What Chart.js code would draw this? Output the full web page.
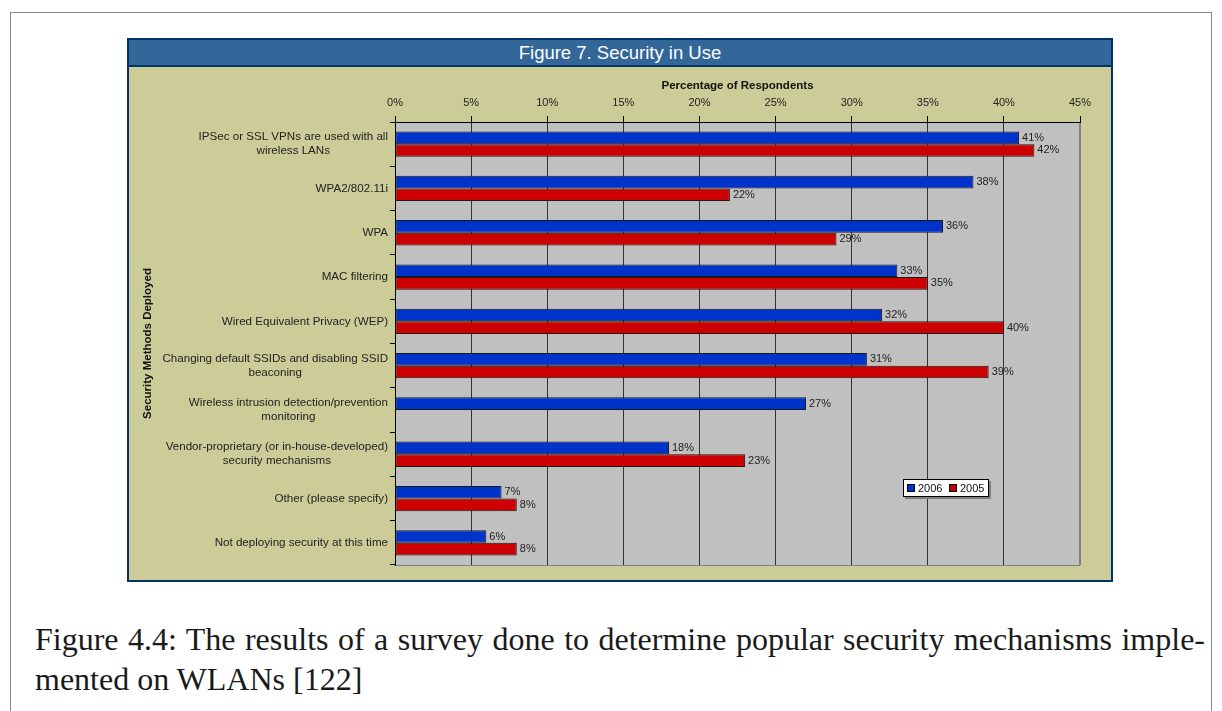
<!DOCTYPE html>
<html>
<head>
<meta charset="utf-8">
<script src="https://cdn.jsdelivr.net/npm/chart.js@4/dist/chart.umd.min.js"></script>
<style>
    body { margin: 0; background: #fff; width: 1222px; height: 711px; overflow: hidden; position: relative; }
    #frame { position: absolute; left: 10px; top: 12px; width: 1202px; height: 720px; border: 1px solid #888; box-sizing: border-box; }
    #panel { position: absolute; left: 127px; top: 38px; width: 986px; height: 544px; border: 2px solid #003366; box-sizing: border-box; background: #cccc99; }
    #titlebar { position: absolute; left: 0; top: 0; width: 982px; height: 27px; background: #336699; border-bottom: 2px solid #003366; box-sizing: border-box; color: #fff; font: 18.5px "Liberation Sans", Arial, sans-serif; text-align: center; line-height: 26px; }
    #wrap { position: absolute; left: 0; top: 27px; width: 982px; height: 513px; }
    .cap { position: absolute; left: 35px; font: 32px "Liberation Serif", "Times New Roman", serif; line-height: 40px; color: #1a1a1a; white-space: nowrap; }
    #cap1 { top: 619px; width: 1170px; text-align: justify; text-align-last: justify; white-space: normal; }
    #cap2 { top: 659px; }
</style>
</head>
<body>
<div id="frame"></div>
<div id="panel">
    <div id="titlebar">Figure 7. Security in Use</div>
    <div id="wrap"><canvas id="myChart"></canvas></div>
</div>
<div class="cap" id="cap1">Figure 4.4: The results of a survey done to determine popular security mechanisms imple-</div>
<div class="cap" id="cap2">mented on WLANs [122]</div>
<script>
    const categories = [
        ['IPSec or SSL VPNs are used with all', 'wireless LANs'],
        ['WPA2/802.11i'],
        ['WPA'],
        ['MAC filtering'],
        ['Wired Equivalent Privacy (WEP)'],
        ['Changing default SSIDs and disabling SSID', 'beaconing'],
        ['Wireless intrusion detection/prevention', 'monitoring'],
        ['Vendor-proprietary (or in-house-developed)', 'security mechanisms'],
        ['Other (please specify)'],
        ['Not deploying security at this time']
    ];
    const values2006 = [41, 38, 36, 33, 32, 31, 27, 18, 7, 6];
    const values2005 = [42, 22, 29, 35, 40, 39, null, 23, 8, 8];
    const xTicks = [0, 5, 10, 15, 20, 25, 30, 35, 40, 45];

    const labelFont = '11px "Liberation Sans", Arial, sans-serif';
    const catFont = '11.6px "Liberation Sans", Arial, sans-serif';

    // grey plot background like excel
    const plotBg = {
        id: 'plotBg',
        beforeDraw(chart) {
            const a = chart.chartArea;
            const ctx = chart.ctx;
            ctx.save();
            ctx.fillStyle = '#c0c0c0';
            ctx.fillRect(a.left, a.top, a.right - a.left, a.bottom - a.top);
            ctx.strokeStyle = '#808080';
            ctx.lineWidth = 1;
            ctx.strokeRect(a.left + 0.5, a.top + 0.5, a.right - a.left - 1, a.bottom - a.top);
            ctx.restore();
        }
    };

    // category labels: block right aligned, lines centered
    const yLabels = {
        id: 'yLabels',
        afterDraw(chart) {
            const ctx = chart.ctx;
            const y = chart.scales.y;
            ctx.save();
            ctx.font = catFont;
            ctx.fillStyle = '#222';
            ctx.textAlign = 'center';
            ctx.textBaseline = 'middle';
            categories.forEach(function (lines, i) {
                const w = Math.max.apply(null, lines.map(l => ctx.measureText(l).width));
                const cx = y.right - 7 - w / 2;
                const cy = y.getPixelForValue(i);
                const lh = 14;
                lines.forEach(function (l, j) {
                    ctx.fillText(l, cx, cy + (j - (lines.length - 1) / 2) * lh);
                });
            });
            ctx.restore();
        }
    };

    const barValues = {
        id: 'barValues',
        afterDatasetsDraw(chart) {
            const ctx = chart.ctx;
            ctx.save();
            ctx.font = labelFont;
            ctx.fillStyle = '#222';
            ctx.textAlign = 'left';
            ctx.textBaseline = 'middle';
            chart.data.datasets.forEach(function (ds, di) {
                chart.getDatasetMeta(di).data.forEach(function (bar, i) {
                    if (ds.data[i] == null) return;
                    ctx.fillText(ds.data[i] + '%', bar.x + 3, bar.y);
                });
            });
            ctx.restore();
        }
    };

    const boxLegend = {
        id: 'boxLegend',
        afterDraw(chart) {
            const ctx = chart.ctx;
            const x = 774, y = 412, w = 86, h = 18;
            ctx.save();
            ctx.fillStyle = '#808080';
            ctx.fillRect(x + 2, y + 2, w, h);
            ctx.fillStyle = '#fff';
            ctx.fillRect(x, y, w, h);
            ctx.strokeStyle = '#000';
            ctx.lineWidth = 1;
            ctx.strokeRect(x + 0.5, y + 0.5, w - 1, h - 1);
            ctx.font = labelFont;
            ctx.textBaseline = 'middle';
            let px = x + 4;
            chart.data.datasets.forEach(function (ds) {
                ctx.fillStyle = ds.backgroundColor;
                ctx.fillRect(px, y + 5, 8, 8);
                ctx.strokeStyle = '#000';
                ctx.strokeRect(px + 0.5, y + 5.5, 7, 7);
                ctx.fillStyle = '#111';
                ctx.fillText(ds.label, px + 11, y + h / 2 + 1);
                px += 42;
            });
            ctx.restore();
        }
    };

    const ctx = document.getElementById('myChart');

    const myChart = new Chart(ctx, {
        type: 'bar',
        data: {
            labels: categories,
            datasets: [{
                label: '2006',
                data: values2006,
                backgroundColor: '#0033cc',
                borderColor: '#1a1a1a',
                borderWidth: 1,
                borderSkipped: false
            }, {
                label: '2005',
                data: values2005,
                backgroundColor: '#cc0000',
                borderColor: '#1a1a1a',
                borderWidth: 1,
                borderSkipped: false
            }]
        },
        options: {
            indexAxis: 'y',
            responsive: true,
            maintainAspectRatio: false,
            animation: false,
            categoryPercentage: 0.57,
            barPercentage: 1,
            layout: { padding: { top: 0, right: 31, bottom: 15, left: 0 } },
            plugins: {
                legend: { display: false },
                tooltip: { enabled: false }
            },
            scales: {
                x: {
                    position: 'top',
                    min: 0,
                    max: 45,
                    afterBuildTicks(scale) {
                        scale.ticks = xTicks.map(v => ({ value: v }));
                    },
                    afterFit(scale) { scale.height = 55; },
                    ticks: {
                        padding: 6,
                        color: '#222',
                        font: { family: '"Liberation Sans", Arial, sans-serif', size: 11 },
                        callback: v => v + '%'
                    },
                    grid: {
                        color: c => c.tick && c.tick.value === 45 ? '#808080' : '#333',
                        tickColor: '#000',
                        tickLength: 6
                    },
                    border: { color: '#000' },
                    title: {
                        display: true,
                        text: 'Percentage of Respondents',
                        color: '#111',
                        padding: { top: 12, bottom: 0 },
                        font: { family: '"Liberation Sans", Arial, sans-serif', size: 11.5, weight: 'bold' }
                    }
                },
                y: {
                    afterFit(scale) { scale.width = 266; },
                    ticks: { display: false },
                    grid: {
                        drawOnChartArea: false,
                        tickColor: '#000',
                        tickLength: 5
                    },
                    border: { color: '#000' },
                    title: {
                        display: true,
                        text: 'Security Methods Deployed',
                        color: '#111',
                        padding: { top: 12, bottom: 0 },
                        font: { family: '"Liberation Sans", Arial, sans-serif', size: 11.5, weight: 'bold' }
                    }
                }
            }
        },
        plugins: [plotBg, yLabels, barValues, boxLegend]
    });
</script>
</body>
</html>
